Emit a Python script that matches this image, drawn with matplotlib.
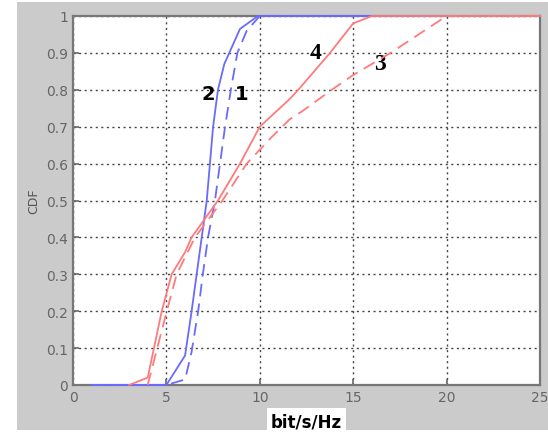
import numpy as np
import matplotlib.pyplot as plt
from matplotlib.patches import Rectangle

# curva 2 (azul, continua)
x2 = [1, 5, 6, 6.35, 6.62, 6.89, 7.16, 7.33, 7.5, 7.76, 8.1, 8.94, 9.9, 25]
y2 = [0, 0, 0.08, 0.2, 0.3, 0.4, 0.5, 0.6, 0.7, 0.8, 0.87, 0.965, 1.0, 1.0]

# curva 1 (azul, discontinua)
x1 = [1, 5, 6, 6.35, 6.7, 6.95, 7.23, 7.6, 7.87, 8.14, 8.45, 8.8, 9.3, 10, 25]
y1 = [0, 0, 0.015, 0.09, 0.2, 0.3, 0.4, 0.5, 0.6, 0.7, 0.8, 0.9, 0.96, 1.0, 1.0]

# curva 4 (roja, continua)
x4 = [3, 4, 4.75, 5.28, 6, 6.35, 7.76, 8.94, 10, 11.6, 12.06, 13.76, 15, 16, 25]
y4 = [0, 0.02, 0.2, 0.3, 0.36, 0.4, 0.5, 0.6, 0.7, 0.775, 0.8, 0.9, 0.98, 1.0, 1.0]

# curva 3 (roja, discontinua)
x3 = [4, 5.02, 5.55, 6.53, 8, 9.3, 10.6, 11.6, 12.3, 13.85, 15, 17, 20, 25]
y3 = [0, 0.2, 0.3, 0.4, 0.5, 0.6, 0.67, 0.72, 0.743, 0.8, 0.84, 0.9, 1.0, 1.0]

etiquetas = ["2", "1", "4", "3"]
pos_etiquetas = [(7.23, 0.79), (9.05, 0.79), (13.0, 0.90), (16.43, 0.87)]
fuentes = ["DejaVu Sans", "DejaVu Sans", "Liberation Serif", "Liberation Serif"]
tamanos = [14, 14, 17, 17]

azul = "#6a6aff"
rojo = "#ff7a7a"

fig = plt.figure(figsize=(5.48, 4.35), dpi=100)
fondo = Rectangle((17 / 548, 4 / 435), 531 / 548, 428 / 435,
                  transform=fig.transFigure, facecolor="#cbcbcb",
                  edgecolor="none", zorder=-10)
fig.add_artist(fondo)
ax = fig.add_axes([73 / 548, 49 / 435, 467 / 548, 369 / 435])

estilo = dict(lw=1.3, clip_on=False, zorder=5)
ax.plot(x2, y2, color=azul, **estilo)
ax.plot(x1, y1, color=azul, dashes=(7, 4), **estilo)
ax.plot(x4, y4, color=rojo, **estilo)
ax.plot(x3, y3, color=rojo, dashes=(7, 4), **estilo)

ax.set_xlim(0, 25)
ax.set_ylim(0, 1)
ax.set_xticks(np.arange(0, 26, 5))
ax.set_yticks(np.arange(0, 1.01, 0.1))
ax.set_yticklabels(["0", "0.1", "0.2", "0.3", "0.4", "0.5", "0.6", "0.7", "0.8", "0.9", "1"])
ax.grid(True, color="#444444", linestyle=(0, (1.5, 2.5)), lw=1.0)
ax.tick_params(direction="in", colors="#666666", labelsize=10, length=4, width=1.2)
for sp in ax.spines.values():
    sp.set_color("#777777")
    sp.set_linewidth(1.6)

for txt, (x, y), fam, fs in zip(etiquetas, pos_etiquetas, fuentes, tamanos):
    ax.text(x, y, txt, fontsize=fs, fontweight="bold", family=fam,
            ha="center", va="center", color="black")

ax.set_ylabel("CDF", fontsize=9, color="#555555", labelpad=4)
ax.set_xlabel("bit/s/Hz", fontsize=12, fontweight="bold", labelpad=6,
              bbox=dict(facecolor="white", edgecolor="none", pad=3))

fig.savefig("out.png", dpi=100, facecolor="white")
